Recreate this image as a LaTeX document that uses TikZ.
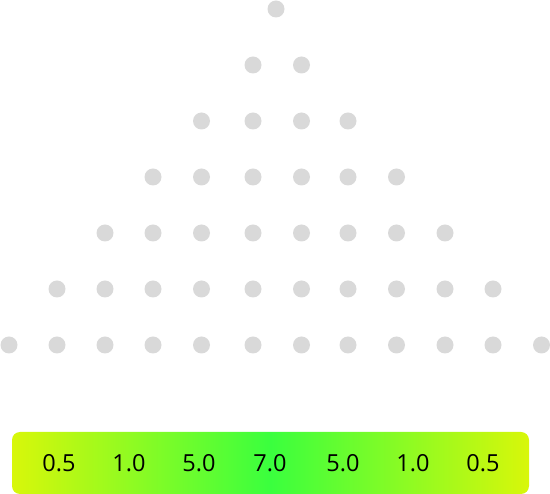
\documentclass[tikz,border=0pt]{standalone}
\usepackage{fontspec}
\setmainfont{Open Sans}
\definecolor{peg}{HTML}{D9D9D9}
\definecolor{edgegreen}{HTML}{D8F70A}
\definecolor{midgreen}{HTML}{3AFF3E}
\pgfdeclarehorizontalshading{barshade}{100bp}{
  color(0bp)=(edgegreen); color(25bp)=(edgegreen); color(50bp)=(midgreen); color(75bp)=(edgegreen); color(100bp)=(edgegreen)}
\begin{document}
\begin{tikzpicture}[x=1pt,y=-1pt,
  pegdot/.style={circle,fill=peg,minimum size=17pt,inner sep=0pt},
  mult/.style={font=\fontsize{23.5}{26}\selectfont,text=black,inner sep=0pt}]
\useasboundingbox (0,0) rectangle (550,494);
\node[pegdot] (p0) at (276,9) {};
\def\xs{{9,57,105,153,201.5,253,301.5,348,396.5,445,493,541.5}}
\foreach \r in {1,...,6}{
  \pgfmathtruncatemacro{\lo}{6-\r}
  \pgfmathtruncatemacro{\hi}{5+\r}
  \foreach \i in {\lo,...,\hi}{
    \pgfmathsetmacro{\xx}{\xs[\i]}
    \node[pegdot] (p\r-\i) at (\xx,{9+56*\r}) {};
  }
}
\shade[shading=barshade,rounded corners=8pt] (12,432) rectangle (529,494);
\node[mult] (m1) at (59,463.5) {0.5};
\node[mult] (m2) at (129,463.5) {1.0};
\node[mult] (m3) at (199,463.5) {5.0};
\node[mult] (m4) at (270,463.5) {7.0};
\node[mult] (m5) at (343,463.5) {5.0};
\node[mult] (m6) at (413,463.5) {1.0};
\node[mult] (m7) at (483,463.5) {0.5};
\end{tikzpicture}
\end{document}
